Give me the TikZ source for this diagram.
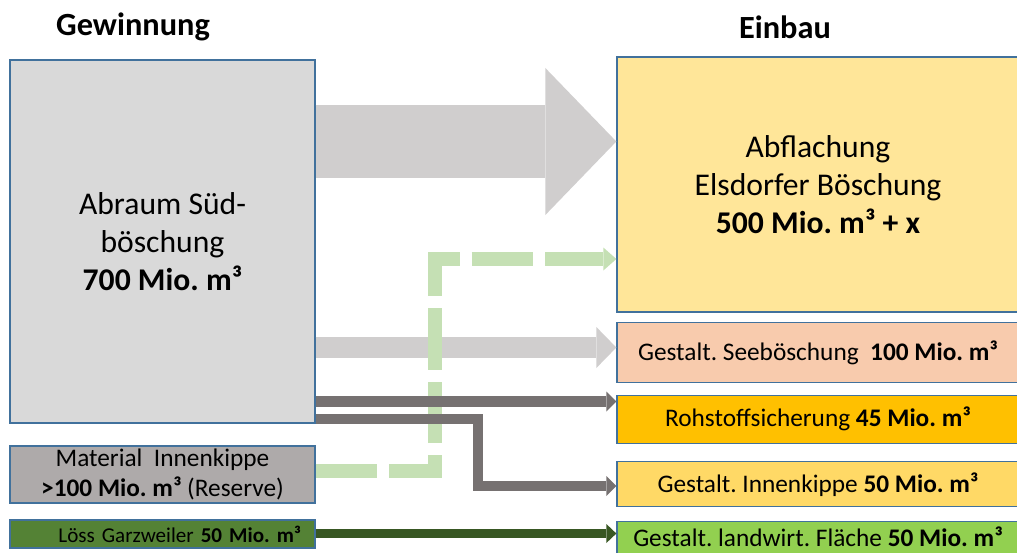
\documentclass[tikz,border=0pt]{standalone}
\usepackage{fontspec}
\setmainfont{Carlito}
\usetikzlibrary{positioning,arrows.meta}
\frenchspacing

\definecolor{boxline}{HTML}{41719C}
\definecolor{abraumgray}{HTML}{D9D9D9}
\definecolor{reservegray}{HTML}{AEAAAA}
\definecolor{loessgreen}{HTML}{548235}
\definecolor{flowgray}{HTML}{D0CECE}
\definecolor{darkflow}{HTML}{767171}
\definecolor{paleflow}{HTML}{C5E0B4}
\definecolor{greenflow}{HTML}{385723}
\definecolor{abflyellow}{HTML}{FFE699}
\definecolor{seerose}{HTML}{F8CBAD}
\definecolor{rohorange}{HTML}{FFC000}
\definecolor{kippeyellow}{HTML}{FFD966}
\definecolor{landgreen}{HTML}{92D050}

\begin{document}
\begin{tikzpicture}[x=0.025cm, y=-0.025cm]

\tikzstyle{blockbox}=[draw=boxline, line width=0.03cm, text centered, inner sep=0pt]
\tikzstyle{srcbox} = [blockbox, minimum width=7.625cm]
\tikzstyle{zielbox} = [blockbox, minimum width=10.05cm, font=\fontsize{18}{21}\selectfont]
\tikzstyle{bigtext} = [align=center, font=\fontsize{22.5}{27}\selectfont]
\tikzstyle{titel} = [font=\fontsize{23}{27}\selectfont\bfseries]

\tikzstyle{bigflow} = [draw=flowgray, line width=1.825cm, -{Triangle[length=1.775cm, width=3.675cm, line width=0pt]}]
\tikzstyle{seeflow} = [draw=flowgray, line width=0.525cm, -{Triangle[length=0.5cm, width=1.025cm, line width=0pt]}]
\tikzstyle{darkline} = [draw=darkflow, line width=0.27cm, -{Triangle[length=0.25cm, width=0.5cm, line width=0pt]}]
\tikzstyle{loessline} = [draw=greenflow, line width=0.225cm, -{Triangle[length=0.25cm, width=0.475cm, line width=0pt]}]
\tikzstyle{dashline} = [draw=paleflow, line width=0.35cm, dash pattern=on 1.54cm off 0.3cm, -{Triangle[length=0.325cm, width=0.575cm, line width=0pt]}]

\newcommand{\zielbox}[4]{node (#1) [zielbox, fill=#2, minimum height=#3] {#4}}

\useasboundingbox (0,0) rectangle (1017,552);

% titles
\path (133,27) node (gew) [titel] {Gewinnung};
\path (785,27) node (einb) [titel] {Einbau};

% Gewinnung
\path (162.5,241.5) node (abraum) [srcbox, fill=abraumgray, minimum height=9.075cm, bigtext]
  {Abraum Süd-\\böschung\\\textbf{700 Mio. m³}};
\path (162.5,474.5) node (innen) [srcbox, fill=reservegray, minimum height=1.425cm, align=center,
  font=\fontsize{18}{21}\selectfont]
  {Material\ \ Innenkippe\\\textbf{>100 Mio. m³} (Reserve)};
\path (162.5,534) node (loess) [srcbox, fill=loessgreen, minimum height=0.7cm, text width=6.925cm,
  inner xsep=0.35cm, align=right, font=\fontsize{15}{18}\selectfont]
  {Löss Garzweiler \textbf{50 Mio. m³}};

% Einbau
\path (818,184.5) node (abfl) [blockbox, fill=abflyellow, minimum width=10.05cm, minimum height=6.375cm, bigtext]
  {Abflachung\\Elsdorfer Böschung\\\textbf{500 Mio. m³ + x}};
\path (abfl.south) + (0,40) \zielbox{see}{seerose}{1.5cm}{Gestalt. Seeböschung\ \ \textbf{100 Mio. m³}};
\path (see.south) + (0,36) \zielbox{roh}{rohorange}{1.2cm}{Rohstoffsicherung \textbf{45 Mio. m³}};
\path (roh.south) + (0,40.5) \zielbox{ikp}{kippeyellow}{1.125cm}{Gestalt. Innenkippe \textbf{50 Mio. m³}};
\path (ikp.south) + (0,31) node (land) [zielbox, fill=landgreen, minimum height=0.85cm, text depth=0.1cm]
  {Gestalt. landwirt. Fläche \textbf{50 Mio. m³}};

% flows
\draw[bigflow] (abraum.east |- 0,141.5) -- (abfl.west |- 0,141.5);
\draw[seeflow] (abraum.east |- 0,347.5) -- (see.west |- 0,347.5);
\draw[dashline] (innen.east |- 0,471) -| (435,259) -- (abfl.west |- 0,259);
\draw[darkline] (abraum.east |- 0,401.5) -- (roh.west |- 0,401.5);
\draw[darkline] (abraum.east |- 0,419) -| (478,486) -- (ikp.west |- 0,486);
\draw[loessline] (loess.east |- 0,533.5) -- (land.west |- 0,533.5);

\end{tikzpicture}
\end{document}
